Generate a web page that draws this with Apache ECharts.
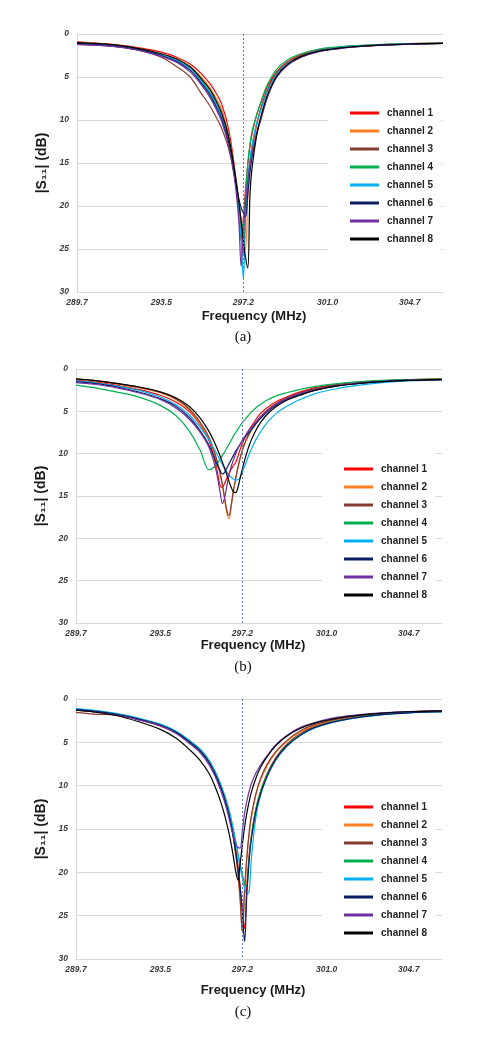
<!DOCTYPE html>
<html><head><meta charset="utf-8">
<script src="https://cdn.jsdelivr.net/npm/echarts@6/dist/echarts.min.js"></script>
<style>html,body{margin:0;padding:0;background:#fff;}#chart{width:481px;height:1050px;}</style>
</head><body><div id="chart"></div>
<script>
// ---------- DATA ----------
const freq = [289.7, 290.5, 291.5, 292.5, 293.5, 294.2, 294.8, 295.3, 295.7, 296.0, 296.2, 296.3, 296.4, 296.5, 296.6, 296.7, 296.8, 296.9, 297.0, 297.1, 297.2, 297.3, 297.4, 297.5, 297.6, 297.8, 298.0, 298.3, 298.7, 299.2, 299.8, 300.5, 301.5, 302.5, 303.5, 304.7, 306.2];
const tickLabels = [289.7, 293.5, 297.2, 301.0, 304.7];
const markerFreq = 297.2;
const channels = ['channel 1', 'channel 2', 'channel 3', 'channel 4', 'channel 5', 'channel 6', 'channel 7', 'channel 8'];

// panel (a)
const a1 = [0.9, 1.05, 1.25, 1.6, 2.1, 2.7, 3.5, 4.6, 5.8, 7.0, 8.0, 8.8, 9.6, 10.7, 12.0, 13.6, 15.6, 18.2, 21.0, 24.0, 21.5, 18.0, 15.2, 13.0, 11.5, 9.4, 7.9, 6.0, 4.4, 3.2, 2.4, 1.9, 1.55, 1.35, 1.22, 1.12, 1.06];
const a2 = [0.95, 1.1, 1.3, 1.7, 2.3, 2.9, 3.8, 5.0, 6.3, 7.6, 8.6, 9.4, 10.3, 11.4, 12.6, 14.0, 15.6, 17.4, 19.5, 22.0, 24.2, 25.0, 19.0, 15.8, 13.6, 10.8, 8.6, 6.4, 4.6, 3.3, 2.5, 2.0, 1.6, 1.4, 1.25, 1.15, 1.08];
const a3 = [1.2, 1.3, 1.5, 1.9, 2.7, 3.8, 5.0, 6.9, 8.4, 9.8, 10.8, 11.5, 12.2, 13.0, 14.0, 15.2, 16.6, 18.3, 20.5, 23.0, 25.5, 21.0, 17.0, 14.8, 13.0, 10.4, 8.5, 6.4, 4.5, 3.3, 2.5, 2.0, 1.6, 1.4, 1.25, 1.15, 1.08];
const a4 = [1.0, 1.15, 1.35, 1.75, 2.4, 3.0, 3.9, 5.4, 6.8, 8.1, 9.2, 10.0, 10.8, 11.9, 13.0, 14.4, 16.0, 17.8, 19.8, 21.5, 22.5, 18.5, 15.0, 12.8, 11.2, 9.4, 7.8, 5.8, 4.1, 3.0, 2.3, 1.8, 1.5, 1.33, 1.2, 1.12, 1.06];
const a5 = [1.1, 1.2, 1.4, 1.8, 2.4, 3.1, 4.0, 5.5, 6.9, 8.3, 9.4, 10.2, 11.0, 12.1, 13.2, 14.6, 16.2, 18.2, 20.5, 24.0, 28.5, 21.0, 17.0, 14.6, 12.8, 10.4, 8.8, 6.6, 4.7, 3.4, 2.6, 2.0, 1.6, 1.4, 1.25, 1.15, 1.08];
const a6 = [1.1, 1.2, 1.45, 1.85, 2.5, 3.2, 4.2, 5.7, 7.1, 8.6, 9.7, 10.5, 11.3, 12.3, 13.4, 14.8, 16.3, 17.8, 19.2, 20.2, 20.8, 21.2, 18.6, 16.0, 14.2, 11.6, 9.8, 7.2, 5.0, 3.6, 2.7, 2.1, 1.7, 1.45, 1.3, 1.18, 1.1];
const a7 = [1.2, 1.3, 1.5, 1.9, 2.6, 3.3, 4.4, 5.9, 7.4, 8.9, 10.0, 10.8, 11.6, 12.6, 13.8, 15.2, 16.8, 19.0, 22.0, 27.0, 23.0, 19.5, 17.0, 15.2, 13.8, 11.6, 9.8, 7.2, 5.0, 3.6, 2.7, 2.1, 1.7, 1.45, 1.3, 1.18, 1.1];
const a8 = [1.0, 1.1, 1.3, 1.7, 2.3, 2.9, 3.8, 5.2, 6.5, 7.9, 9.0, 9.8, 10.6, 11.6, 12.8, 14.2, 15.8, 17.6, 19.6, 21.8, 24.0, 26.0, 27.2, 18.5, 15.4, 11.8, 9.5, 7.0, 4.9, 3.5, 2.6, 2.05, 1.65, 1.42, 1.28, 1.16, 1.1];

// panel (b)
const b1 = [1.3, 1.5, 1.9, 2.4, 3.1, 3.9, 5.0, 6.6, 8.5, 11.2, 13.8, 14.0, 13.5, 12.9, 12.3, 11.8, 11.4, 11.0, 10.3, 9.5, 8.8, 8.2, 7.7, 7.2, 6.8, 6.0, 5.3, 4.6, 3.9, 3.3, 2.7, 2.2, 1.8, 1.55, 1.4, 1.28, 1.2];
const b2 = [1.2, 1.4, 1.75, 2.2, 2.8, 3.6, 4.8, 6.5, 8.3, 10.5, 12.5, 13.8, 15.4, 17.0, 17.7, 16.2, 14.4, 13.0, 11.7, 10.6, 9.7, 8.9, 8.3, 7.8, 7.3, 6.5, 5.8, 5.0, 4.2, 3.5, 2.9, 2.4, 1.9, 1.6, 1.42, 1.28, 1.18];
const b3 = [1.15, 1.35, 1.7, 2.15, 2.75, 3.5, 4.7, 6.3, 8.1, 10.3, 12.3, 13.6, 15.2, 16.7, 17.3, 16.0, 14.3, 12.9, 11.6, 10.5, 9.6, 8.8, 8.2, 7.7, 7.2, 6.4, 5.7, 4.9, 4.1, 3.4, 2.8, 2.3, 1.85, 1.58, 1.4, 1.26, 1.16];
const b4 = [1.9, 2.2, 2.7, 3.3, 4.3, 5.5, 7.3, 9.6, 11.9, 11.4, 10.6, 10.2, 9.8, 9.3, 8.9, 8.4, 7.9, 7.5, 7.1, 6.7, 6.3, 6.0, 5.7, 5.4, 5.1, 4.6, 4.2, 3.7, 3.2, 2.8, 2.4, 2.05, 1.72, 1.5, 1.35, 1.25, 1.2];
const b5 = [1.4, 1.6, 2.0, 2.5, 3.3, 4.2, 5.4, 6.9, 8.4, 9.8, 10.8, 11.3, 11.8, 12.2, 12.6, 12.8, 13.0, 13.1, 13.1, 12.8, 12.2, 11.5, 10.8, 10.1, 9.5, 8.4, 7.5, 6.4, 5.3, 4.4, 3.6, 2.9, 2.3, 1.9, 1.6, 1.4, 1.3];
const b6 = [1.5, 1.7, 2.1, 2.7, 3.5, 4.4, 5.7, 7.3, 9.0, 10.9, 12.0, 12.4, 12.2, 11.7, 11.2, 10.7, 10.2, 9.7, 9.3, 8.9, 8.5, 8.1, 7.8, 7.5, 7.2, 6.5, 5.9, 5.1, 4.3, 3.6, 3.0, 2.5, 2.0, 1.7, 1.5, 1.35, 1.25];
const b7 = [1.6, 1.8, 2.2, 2.8, 3.6, 4.6, 5.9, 7.5, 9.3, 11.8, 14.6, 15.9, 15.2, 13.8, 12.5, 11.5, 10.7, 10.0, 9.4, 8.9, 8.4, 8.0, 7.6, 7.2, 6.9, 6.3, 5.7, 5.0, 4.2, 3.5, 2.9, 2.4, 1.95, 1.65, 1.45, 1.32, 1.24];
const b8 = [1.2, 1.35, 1.7, 2.1, 2.7, 3.4, 4.4, 5.8, 7.4, 9.0, 10.3, 11.0, 11.7, 12.5, 13.3, 14.0, 14.5, 14.6, 14.0, 12.9, 11.8, 10.8, 9.9, 9.1, 8.4, 7.3, 6.4, 5.4, 4.5, 3.7, 3.1, 2.5, 2.0, 1.7, 1.5, 1.35, 1.25];

// panel (c)
const c1 = [1.2, 1.4, 1.75, 2.3, 3.0, 3.8, 4.9, 5.9, 7.2, 8.7, 9.9, 10.6, 11.3, 12.1, 13.1, 14.3, 15.7, 17.3, 19.3, 21.6, 24.3, 26.5, 21.5, 18.2, 15.9, 12.8, 10.8, 8.7, 6.8, 5.2, 4.0, 3.1, 2.45, 2.0, 1.75, 1.55, 1.42];
const c2 = [1.3, 1.45, 1.8, 2.35, 3.1, 3.9, 5.0, 6.0, 7.3, 8.8, 10.0, 10.7, 11.5, 12.3, 13.3, 14.6, 16.1, 17.9, 20.2, 23.3, 27.0, 22.5, 18.6, 15.8, 13.8, 11.2, 9.5, 7.8, 6.2, 4.9, 3.8, 3.0, 2.35, 1.95, 1.7, 1.5, 1.38];
const c3 = [1.55, 1.75, 1.85, 2.35, 3.1, 3.9, 5.0, 6.0, 7.3, 8.8, 10.0, 10.7, 11.5, 12.3, 13.3, 14.6, 16.1, 17.9, 20.0, 23.0, 26.8, 22.0, 18.2, 15.5, 13.5, 11.0, 9.3, 7.6, 6.1, 4.8, 3.7, 2.9, 2.3, 1.9, 1.68, 1.48, 1.36];
const c4 = [1.2, 1.35, 1.7, 2.25, 2.95, 3.75, 4.8, 5.8, 7.1, 8.5, 9.7, 10.4, 11.1, 11.9, 12.8, 13.9, 15.1, 16.4, 17.8, 19.0, 20.2, 21.2, 21.6, 18.5, 16.0, 12.8, 10.8, 8.8, 6.9, 5.3, 4.1, 3.2, 2.5, 2.05, 1.78, 1.58, 1.45];
const c5 = [1.1, 1.3, 1.65, 2.2, 2.9, 3.7, 4.75, 5.8, 7.1, 8.6, 9.8, 10.5, 11.3, 12.1, 13.0, 14.1, 15.3, 16.6, 18.0, 19.4, 20.7, 21.8, 22.5, 22.3, 18.6, 13.8, 11.3, 9.1, 7.1, 5.5, 4.2, 3.3, 2.55, 2.1, 1.8, 1.6, 1.47];
const c6 = [1.2, 1.4, 1.75, 2.3, 3.0, 3.8, 4.9, 6.0, 7.3, 8.8, 10.0, 10.7, 11.5, 12.4, 13.4, 14.6, 16.0, 17.6, 19.5, 21.8, 24.6, 28.0, 22.6, 18.8, 16.3, 13.1, 11.1, 9.0, 7.0, 5.4, 4.2, 3.25, 2.55, 2.1, 1.8, 1.6, 1.47];
const c7 = [1.3, 1.5, 1.85, 2.4, 3.1, 3.95, 5.1, 6.2, 7.6, 9.1, 10.4, 11.1, 11.9, 12.8, 13.8, 14.9, 15.9, 16.7, 17.1, 17.2, 15.2, 13.2, 11.8, 10.7, 9.8, 8.6, 7.7, 6.6, 5.3, 4.2, 3.3, 2.7, 2.1, 1.8, 1.6, 1.45, 1.35];
const c8 = [1.3, 1.5, 1.9, 2.6, 3.5, 4.5, 5.8, 7.1, 8.6, 10.3, 11.7, 12.5, 13.4, 14.4, 15.5, 16.8, 18.3, 19.9, 20.9, 19.0, 16.8, 14.8, 13.2, 11.9, 10.8, 9.2, 8.0, 6.7, 5.4, 4.3, 3.4, 2.75, 2.2, 1.85, 1.62, 1.47, 1.38];

// ---------- STYLE / LAYOUT ----------
const colors = ['#ff0000', '#ff7f27', '#843c30', '#00b050', '#00b0f0', '#0b1f66', '#7030a0', '#000000'];
const panels = [
  { data: [a1, a2, a3, a4, a5, a6, a7, a8], caption: '(a)',
    grid: { left: 77, top: 34, width: 366, height: 258 },
    legend: { left: 328, top: 100, padding: [7, 8, 10, 22] }, xNameGap: 18, capY: 337 },
  { data: [b1, b2, b3, b4, b5, b6, b7, b8], caption: '(b)',
    grid: { left: 76, top: 369, width: 366, height: 254 },
    legend: { left: 322, top: 449, padding: [14, 8, 10, 22] }, xNameGap: 16, capY: 667 },
  { data: [c1, c2, c3, c4, c5, c6, c7, c8], caption: '(c)',
    grid: { left: 76, top: 699, width: 366, height: 260 },
    legend: { left: 322, top: 795, padding: [6, 8, 8, 22] }, xNameGap: 25, capY: 1012 }
];

const FONT = '"Liberation Sans", Arial, sans-serif';
const option = {
  animation: false,
  backgroundColor: '#fff',
  textStyle: { fontFamily: FONT },
  grid: panels.map(p => p.grid),
  xAxis: panels.map((p, i) => ({
    type: 'value', gridIndex: i, min: 289.7, max: 306.2,
    axisLine: { onZero: false, lineStyle: { color: '#d9d9d9', width: 1 } },
    axisTick: { show: false },
    splitLine: { show: false },
    axisLabel: { customValues: tickLabels, formatter: v => v.toFixed(1), fontSize: 8.5,
      fontStyle: 'italic', fontWeight: 'bold', color: '#3a3a3a', margin: 6 },
    name: 'Frequency (MHz)', nameLocation: 'middle', nameGap: p.xNameGap,
    nameTextStyle: { fontSize: 13, fontWeight: 'bold', color: '#1a1a1a', fontFamily: FONT, padding: [0, 12, 0, 0] }
  })),
  yAxis: panels.map((p, i) => ({
    type: 'value', gridIndex: i, inverse: true, min: 0, max: 30, interval: 5,
    axisLine: { show: true, lineStyle: { color: '#d9d9d9', width: 1 } },
    axisTick: { show: false },
    splitLine: { show: true, lineStyle: { color: '#d9d9d9', width: 1 } },
    axisLabel: { fontSize: 8.5, fontStyle: 'italic', fontWeight: 'bold', color: '#3a3a3a', margin: 8 },
    name: '|S\u2081\u2081| (dB)', nameLocation: 'middle', nameGap: 27, nameRotate: 90,
    nameTextStyle: { fontSize: 14, fontWeight: 'bold', color: '#1a1a1a', fontFamily: FONT }
  })),
  legend: panels.map(p => ({
    data: channels, orient: 'vertical', left: p.legend.left, top: p.legend.top,
    padding: p.legend.padding, backgroundColor: '#fff',
    itemWidth: 29, itemHeight: 3, itemGap: 6, icon: 'rect', selectedMode: false,
    textStyle: { fontSize: 10, fontWeight: 'bold', color: '#222', lineHeight: 12, padding: [0, 0, 0, 3] }
  })),
  graphic: panels.map(p => ({
    type: 'text', x: 243, y: p.capY,
    style: { text: p.caption, font: '15px "Liberation Serif", "Times New Roman", serif', fill: '#111',
      align: 'center', verticalAlign: 'middle' }
  })),
  series: []
};

panels.forEach((p, i) => {
  p.data.forEach((arr, j) => {
    const s = {
      type: 'line', name: channels[j], xAxisIndex: i, yAxisIndex: i,
      data: freq.map((f, k) => [f, arr[k]]),
      showSymbol: false, smooth: 0.35, silent: true,
      color: colors[j], lineStyle: { width: 1.2, color: colors[j] }
    };
    if (j === channels.length - 1) {
      s.markLine = {
        silent: true, symbol: ['none', 'none'], label: { show: false },
        lineStyle: { type: [2, 2], color: '#5d7fb8', width: 1 },
        data: [{ xAxis: markerFreq }]
      };
    }
    option.series.push(s);
  });
});

const chart = echarts.init(document.getElementById('chart'), null, { renderer: 'canvas' });
chart.setOption(option);
</script>
</body></html>
